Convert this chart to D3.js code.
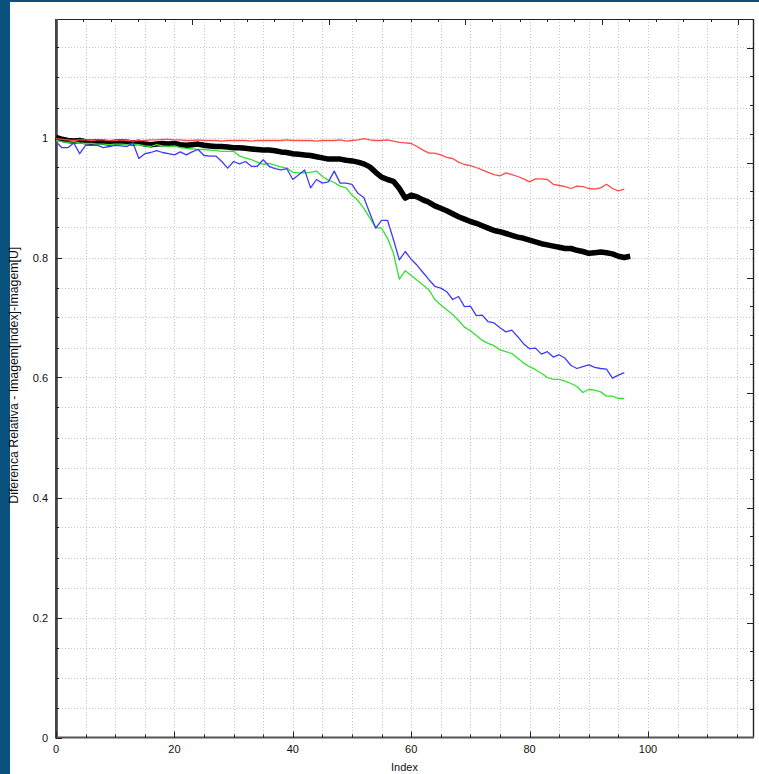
<!DOCTYPE html>
<html><head><meta charset="utf-8">
<script src="https://cdn.jsdelivr.net/npm/d3@7"></script>
<style>html,body{margin:0;padding:0;background:#fff;} svg{display:block}</style>
</head><body>
<svg id="c" width="759" height="774"></svg>
<script>
// ---- data (index 0..N) ----
const blackSeries = [
1.000,0.997,0.995,0.994,0.995,0.993,0.992,0.993,0.992,0.991,
0.992,0.993,0.992,0.991,0.992,0.989,0.988,0.989,0.990,0.989,
0.990,0.988,0.987,0.988,0.989,0.987,0.986,0.985,0.985,0.984,
0.983,0.983,0.982,0.981,0.980,0.979,0.979,0.978,0.976,0.975,
0.973,0.972,0.971,0.970,0.968,0.966,0.964,0.964,0.964,0.962,
0.961,0.959,0.956,0.951,0.942,0.934,0.930,0.927,0.915,0.899,
0.904,0.901,0.896,0.892,0.886,0.882,0.878,0.873,0.868,0.864,
0.860,0.857,0.853,0.849,0.845,0.843,0.840,0.837,0.834,0.832,
0.829,0.826,0.823,0.821,0.819,0.817,0.815,0.815,0.812,0.810,
0.807,0.808,0.809,0.808,0.806,0.802,0.800,0.802];

const redSeries = [
0.998,0.997,0.996,0.995,0.996,0.996,0.995,0.996,0.996,0.995,
0.995,0.996,0.995,0.994,0.995,0.995,0.996,0.996,0.997,0.997,
0.996,0.996,0.995,0.995,0.996,0.995,0.995,0.995,0.994,0.995,
0.995,0.995,0.995,0.994,0.995,0.995,0.995,0.995,0.995,0.996,
0.995,0.995,0.995,0.995,0.994,0.995,0.995,0.995,0.996,0.994,
0.995,0.996,0.998,0.996,0.995,0.995,0.996,0.994,0.992,0.991,
0.990,0.985,0.979,0.974,0.974,0.971,0.967,0.965,0.959,0.955,
0.953,0.950,0.946,0.942,0.938,0.936,0.941,0.938,0.935,0.931,
0.926,0.931,0.931,0.930,0.922,0.920,0.918,0.915,0.919,0.918,
0.915,0.914,0.916,0.922,0.915,0.911,0.914];

const greenSeries = [
0.995,0.993,0.992,0.993,0.991,0.990,0.990,0.989,0.989,0.988,
0.989,0.989,0.988,0.989,0.988,0.986,0.985,0.988,0.986,0.985,
0.986,0.983,0.982,0.981,0.980,0.980,0.979,0.978,0.977,0.977,
0.977,0.969,0.966,0.963,0.959,0.955,0.957,0.954,0.951,0.949,
0.942,0.941,0.941,0.942,0.944,0.935,0.929,0.925,0.919,0.916,
0.904,0.895,0.882,0.866,0.850,0.849,0.832,0.807,0.764,0.778,
0.770,0.762,0.754,0.746,0.730,0.721,0.713,0.705,0.695,0.684,
0.678,0.670,0.662,0.657,0.653,0.646,0.643,0.640,0.632,0.624,
0.618,0.613,0.607,0.600,0.597,0.597,0.594,0.590,0.585,0.575,
0.580,0.579,0.576,0.569,0.569,0.565,0.565];

const blueSeries = [
0.993,0.983,0.983,0.991,0.973,0.987,0.987,0.987,0.983,0.985,
0.987,0.986,0.985,0.991,0.965,0.973,0.975,0.978,0.975,0.973,
0.971,0.976,0.971,0.976,0.980,0.970,0.969,0.969,0.960,0.949,
0.960,0.956,0.960,0.952,0.952,0.963,0.952,0.948,0.946,0.948,
0.930,0.938,0.946,0.916,0.930,0.924,0.926,0.944,0.924,0.924,
0.922,0.907,0.900,0.874,0.849,0.862,0.862,0.830,0.796,0.810,
0.797,0.787,0.775,0.763,0.752,0.749,0.743,0.730,0.735,0.718,
0.719,0.703,0.704,0.693,0.691,0.683,0.676,0.679,0.668,0.656,
0.648,0.649,0.639,0.643,0.634,0.638,0.632,0.620,0.615,0.618,
0.621,0.617,0.615,0.614,0.599,0.604,0.608];

const xTickLabels = [0, 20, 40, 60, 80, 100];
const yTickLabels = [0, 0.2, 0.4, 0.6, 0.8, 1];
const xTitle = "Index";
const yTitle = "Diferenca Relativa - Imagem[Index]-Imagem[U]";

// ---- layout ----
const W = 759, H = 774;
const L = 56, R = 753, T = 19, B = 737.5;
const svg = d3.select("#c");
svg.append("rect").attr("width", W).attr("height", H).attr("fill", "#0a527e");
svg.append("rect").attr("x", 10).attr("y", 2).attr("width", W - 10).attr("height", H - 2).attr("fill", "#fff");

const x = d3.scaleLinear().domain([0, 117.74]).range([L, R]);
const y = d3.scaleLinear().domain([0, 1.1975]).range([B, T]);
const xTop = d3.scaleLinear().domain([0, 127.75]).range([L, R]);
const yRight = d3.scaleLinear().domain([0, 1.25]).range([B, T]);

const font = "'Liberation Sans', Arial, sans-serif";

// grid
const g = svg.append("g").attr("stroke", "#c8c8c8").attr("stroke-width", 1).attr("stroke-dasharray", "1,2");
d3.range(5, 117.7, 5).forEach(v => {
  const px = Math.round(x(v)) + 0.5;
  g.append("line").attr("x1", px).attr("x2", px).attr("y1", T).attr("y2", B);
});
d3.range(1, 24).map(k => k * 0.05).forEach(v => {
  const py = Math.round(y(v)) + 0.5;
  g.append("line").attr("x1", L).attr("x2", R).attr("y1", py).attr("y2", py);
});

// frame
const fr = svg.append("g");
fr.append("line").attr("x1", L).attr("x2", R + 0.5).attr("y1", T + 0.5).attr("y2", T + 0.5).attr("stroke", "#222").attr("stroke-width", 1.2);
fr.append("line").attr("x1", R + 0.5).attr("x2", R + 0.5).attr("y1", T).attr("y2", B).attr("stroke", "#222").attr("stroke-width", 1.4);
fr.append("line").attr("x1", L).attr("x2", R + 1).attr("y1", B).attr("y2", B).attr("stroke", "#555").attr("stroke-width", 2);
fr.append("line").attr("x1", L + 0.5).attr("x2", L + 0.5).attr("y1", T).attr("y2", B + 1).attr("stroke", "#666").attr("stroke-width", 3);
fr.append("line").attr("x1", L).attr("x2", L).attr("y1", T).attr("y2", B + 1).attr("stroke", "#222").attr("stroke-width", 1);

// ticks
const tk = svg.append("g").attr("stroke", "#222").attr("stroke-width", 1);
d3.range(0, 117.7, 5).forEach(v => {
  const px = Math.round(x(v)) + 0.5, len = v % 20 === 0 ? 6 : 3;
  tk.append("line").attr("x1", px).attr("x2", px).attr("y1", B).attr("y2", B - len);
});
d3.range(0, 24).forEach(k => {
  const py = Math.round(y(k * 0.05)) + 0.5, len = k % 4 === 0 ? 6 : 3;
  tk.append("line").attr("x1", L).attr("x2", L + len).attr("y1", py).attr("y2", py);
});
d3.range(5, 127.7, 5).forEach(v => {
  const px = Math.round(xTop(v)) + 0.5, len = v % 25 === 0 ? 6 : 3;
  tk.append("line").attr("x1", px).attr("x2", px).attr("y1", T).attr("y2", T + len);
});
d3.range(1, 25).forEach(k => {
  const py = Math.round(yRight(k * 0.05)) + 0.5, len = k % 4 === 0 ? 6 : 3;
  tk.append("line").attr("x1", R).attr("x2", R - len).attr("y1", py).attr("y2", py);
});

// tick labels
const lab = svg.append("g").attr("font-family", font).attr("font-size", 11).attr("fill", "#111");
xTickLabels.forEach(v => {
  lab.append("text").attr("x", x(v)).attr("y", 753).attr("text-anchor", "middle").text(v);
});
const fmt = d3.format("~g");
yTickLabels.forEach(v => {
  lab.append("text").attr("x", 48).attr("y", y(v) + 4).attr("text-anchor", "end").text(fmt(v));
});
lab.append("text").attr("x", (L + R) / 2).attr("y", 771).attr("text-anchor", "middle").text(xTitle);
lab.append("text").attr("transform", `translate(18,${(T + B) / 2 - 3}) rotate(-90)`).attr("text-anchor", "middle")
  .attr("font-size", 12.3).text(yTitle);

// series
const line = d3.line().x((d, i) => x(i)).y(d => y(d));
const series = [
  {data: blackSeries, color: "#000", w: 5.5},
  {data: redSeries, color: "#ff4a4a", w: 1.3},
  {data: greenSeries, color: "#33e033", w: 1.3},
  {data: blueSeries, color: "#3c3cff", w: 1.3}
];
const sg = svg.append("g").attr("fill", "none").attr("stroke-linejoin", "round");
series.forEach(s => {
  sg.append("path").attr("d", line(s.data)).attr("stroke", s.color).attr("stroke-width", s.w);
});
</script>
</body></html>
